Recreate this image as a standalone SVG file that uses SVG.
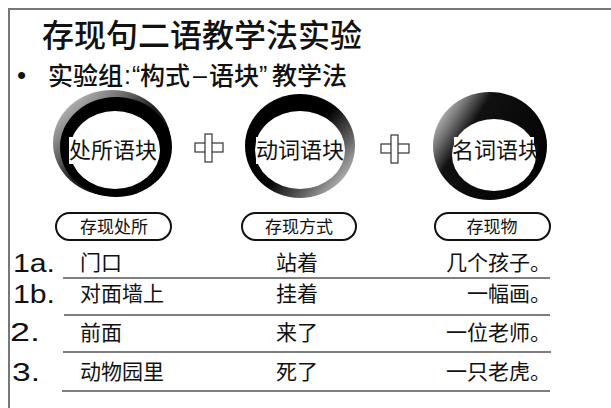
<svg xmlns="http://www.w3.org/2000/svg" width="611" height="408" viewBox="0 0 611 408">
<defs>
<linearGradient id="sh1" x1="0" y1="0" x2="1" y2="1">
<stop offset="0" stop-color="#e0e0e0"/><stop offset="0.25" stop-color="#888"/><stop offset="0.5" stop-color="#222"/><stop offset="1" stop-color="#000"/>
</linearGradient>
<linearGradient id="g2" x1="0" y1="0" x2="1" y2="0.8">
<stop offset="0" stop-color="#000"/><stop offset="0.55" stop-color="#000"/><stop offset="0.8" stop-color="#666"/><stop offset="1" stop-color="#c8c8c8"/>
</linearGradient>
<linearGradient id="g3" x1="0" y1="0.2" x2="1" y2="0.8">
<stop offset="0" stop-color="#d0d0d0"/><stop offset="0.15" stop-color="#777"/><stop offset="0.3" stop-color="#111"/><stop offset="1" stop-color="#000"/>
</linearGradient>
</defs>
<style>
.cjk{font-family:"Noto Sans CJK SC",sans-serif;fill:#111}
.lat{font-family:"Liberation Sans",Arial,sans-serif;fill:#111}
.pill{fill:#fff;stroke:#111;stroke-width:2}
.plus{fill:#fff;stroke:#333;stroke-width:1.2}
.ul{stroke:#555;stroke-width:1.6}
.frame{stroke:#777;stroke-width:2;fill:none}
.tb{fill:#fff}
</style>
<g id="frame">
<path class="frame" d="M9 408 V9 H611"/>
</g>
<g id="title">
<text class="cjk" x="42" y="47" font-size="32" font-weight="500">存现句二语教学法实验</text>
</g>
<g id="subtitle">
<text class="lat" x="17" y="84" font-size="26">•</text>
<text class="cjk" x="48" y="85" font-size="25" font-weight="500">实验组</text>
<text class="lat" x="124" y="84" font-size="25">:</text>
<text class="lat" x="132" y="84" font-size="25">“</text>
<text class="cjk" x="140" y="85" font-size="25" font-weight="500">构式</text>
<text class="lat" x="193" y="84" font-size="25">–</text>
<text class="cjk" x="209" y="85" font-size="25" font-weight="500">语块</text>
<text class="lat" x="259" y="84" font-size="25">”</text>
<text class="cjk" x="272" y="85" font-size="25" font-weight="500">教学法</text>
</g>
<g id="ring1">
<ellipse cx="112" cy="143" rx="59" ry="53" fill="url(#sh1)"/>
<ellipse cx="116" cy="147" rx="56" ry="50" fill="#000"/>
<ellipse cx="115" cy="150" rx="45" ry="39" fill="#fff"/>
<rect class="tb" x="69" y="137" width="84" height="27"/>
<text class="cjk" x="113" y="158" font-size="22" text-anchor="middle">处所语块</text>
</g>
<g id="plus1">
<rect class="plus" x="195" y="143" width="28" height="9"/>
<rect class="plus" x="205" y="134" width="7" height="28"/>
</g>
<g id="ring2">
<ellipse cx="300" cy="146" rx="55" ry="52" fill="url(#g2)"/>
<ellipse cx="300" cy="150" rx="45" ry="39" fill="#fff"/>
<rect class="tb" x="256" y="137" width="84" height="27"/>
<text class="cjk" x="300" y="158" font-size="22" text-anchor="middle">动词语块</text>
</g>
<g id="plus2">
<rect class="plus" x="381" y="144" width="28" height="9"/>
<rect class="plus" x="391" y="135" width="7" height="28"/>
</g>
<g id="ring3">
<ellipse cx="490" cy="146" rx="57" ry="54" fill="url(#g3)"/>
<ellipse cx="494" cy="155" rx="42" ry="36" fill="#fff"/>
<rect class="tb" x="454" y="137" width="80" height="27"/>
<text class="cjk" x="496" y="158" font-size="22" text-anchor="middle">名词语块</text>
</g>
<g id="pill1">
<rect class="pill" x="56" y="213" width="115" height="27" rx="13.5"/>
<text class="cjk" x="114" y="233" font-size="17" text-anchor="middle">存现处所</text>
</g>
<g id="pill2">
<rect class="pill" x="242" y="213" width="114" height="27" rx="13.5"/>
<text class="cjk" x="299" y="233" font-size="17" text-anchor="middle">存现方式</text>
</g>
<g id="pill3">
<rect class="pill" x="435" y="213" width="115" height="27" rx="13.5"/>
<text class="cjk" x="492" y="233" font-size="17" text-anchor="middle">存现物</text>
</g>
<g id="connectors">
<line class="ul" x1="63" y1="278" x2="550" y2="278"/>
<line class="ul" x1="64" y1="315" x2="550" y2="315"/>
<line class="ul" x1="63" y1="352" x2="551" y2="352"/>
<line class="ul" x1="62" y1="391" x2="550" y2="391"/>
</g>
<g id="row1a">
<text class="lat" x="13" y="272" font-size="25" textLength="42" lengthAdjust="spacingAndGlyphs">1a.</text>
<text class="cjk" x="80" y="270" font-size="21">门口</text>
<text class="cjk" x="276" y="270" font-size="21">站着</text>
<text class="cjk" x="551" y="270" font-size="21" text-anchor="end">几个孩子。</text>
</g>
<g id="row1b">
<text class="lat" x="13" y="303" font-size="25" textLength="42" lengthAdjust="spacingAndGlyphs">1b.</text>
<text class="cjk" x="80" y="301" font-size="21">对面墙上</text>
<text class="cjk" x="276" y="301" font-size="21">挂着</text>
<text class="cjk" x="551" y="301" font-size="21" text-anchor="end">一幅画。</text>
</g>
<g id="row2">
<text class="lat" x="10" y="341" font-size="25" textLength="30" lengthAdjust="spacingAndGlyphs">2.</text>
<text class="cjk" x="80" y="340" font-size="21">前面</text>
<text class="cjk" x="276" y="340" font-size="21">来了</text>
<text class="cjk" x="551" y="340" font-size="21" text-anchor="end">一位老师。</text>
</g>
<g id="row3">
<text class="lat" x="12" y="381" font-size="25" textLength="28" lengthAdjust="spacingAndGlyphs">3.</text>
<text class="cjk" x="80" y="379" font-size="21">动物园里</text>
<text class="cjk" x="276" y="379" font-size="21">死了</text>
<text class="cjk" x="551" y="379" font-size="21" text-anchor="end">一只老虎。</text>
</g>
</svg>
